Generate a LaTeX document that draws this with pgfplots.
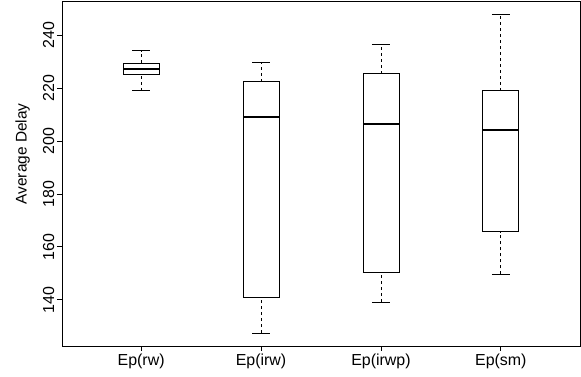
\documentclass[border=0pt]{standalone}
\usepackage{fontspec}
\setmainfont{Liberation Sans}
\usepackage{pgfplots}
\pgfplotsset{compat=1.18}
\begin{document}
\fontsize{16}{19}\selectfont
\begin{tikzpicture}
\useasboundingbox (0bp,0bp) rectangle (581bp,377bp);
\begin{axis}[
  at={(62bp,31bp)}, anchor=south west,
  scale only axis, width=518bp, height=345bp,
  xmin=0.34, xmax=4.66, ymin=122.6, ymax=252.8,
  xtick={1,2,3,4}, xticklabels={Ep(rw),Ep(irw),Ep(irwp),Ep(sm)},
  ytick={140,160,180,200,220,240},
  tick pos=left, tick align=outside, major tick length=5bp,
  /pgf/number format/assume math mode=true,
  tick label style={font=\fontsize{16}{19}\selectfont},
  yticklabel style={rotate=90, anchor=south, inner sep=2.5bp},
  xticklabel style={inner sep=2.5bp},
  ylabel={Average Delay},
  ylabel style={at={(axis description cs:-0.076,0.557)}, anchor=center, font=\fontsize{15.5}{19}\selectfont},
  axis line style={black, line width=0.8bp},
  every tick/.style={black, line width=0.8bp},
  unbounded coords=jump,
]
% boxes (lower quartile / upper quartile), width 0.3
\addplot[black, line width=0.8bp, line join=miter, mark=none] coordinates {
  (0.85,225.1) (1.15,225.1) (1.15,229.4) (0.85,229.4) (0.85,225.1) (0.85,nan)
  (1.85,140.8) (2.15,140.8) (2.15,222.3) (1.85,222.3) (1.85,140.8) (1.85,nan)
  (2.85,150.2) (3.15,150.2) (3.15,225.3) (2.85,225.3) (2.85,150.2) (2.85,nan)
  (3.85,165.7) (4.15,165.7) (4.15,218.9) (3.85,218.9) (3.85,165.7)
};
% medians
\addplot[black, line width=2bp, mark=none] coordinates {
  (0.85,227.2) (1.15,227.2) (1.15,nan)
  (1.85,209.0) (2.15,209.0) (2.15,nan)
  (2.85,206.4) (3.15,206.4) (3.15,nan)
  (3.85,204.3) (4.15,204.3)
};
% whiskers (dashed)
\addplot[black, line width=0.8bp, dash pattern=on 3bp off 3bp, mark=none] coordinates {
  (1,229.4) (1,234.0) (1,nan) (1,218.9) (1,225.1) (1,nan)
  (2,222.3) (2,229.8) (2,nan) (2,127.5) (2,140.8) (2,nan)
  (3,225.3) (3,236.6) (3,nan) (3,139.2) (3,150.2) (3,nan)
  (4,218.9) (4,247.7) (4,nan) (4,149.6) (4,165.7)
};
% whisker caps
\addplot[black, line width=0.8bp, mark=none] coordinates {
  (0.925,234.0) (1.075,234.0) (1.075,nan) (0.925,218.9) (1.075,218.9) (1.075,nan)
  (1.925,229.8) (2.075,229.8) (2.075,nan) (1.925,127.5) (2.075,127.5) (2.075,nan)
  (2.925,236.6) (3.075,236.6) (3.075,nan) (2.925,139.2) (3.075,139.2) (3.075,nan)
  (3.925,247.7) (4.075,247.7) (4.075,nan) (3.925,149.6) (4.075,149.6)
};
\end{axis}
\end{tikzpicture}
\end{document}
